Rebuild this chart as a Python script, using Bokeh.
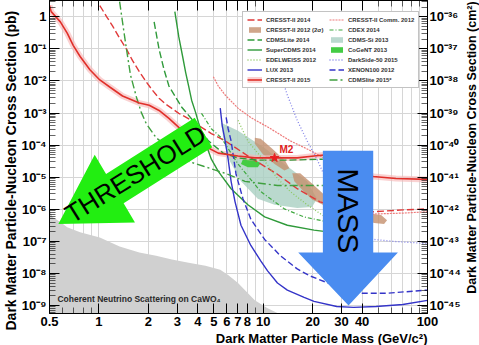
import numpy as np
from bokeh.plotting import figure
from bokeh.layouts import row
from bokeh.models import (Range1d, FixedTicker, LogAxis, CustomJSTickFormatter,
                          Legend, LegendItem, Title)
from bokeh.embed import file_html
from bokeh.resources import INLINE
from bokeh.core.properties import value

# ---------------- data (mass in GeV/c^2, log10 of cross section in pb) ----------------
cresst2015_m = [0.5, 0.512, 0.582, 0.641, 0.697, 0.768, 0.881, 1.012, 1.163, 1.392, 1.761, 2.023,
                2.322, 2.667, 3.062, 3.516, 4.037, 4.638, 5.325, 7.023, 8.884, 11.72, 16.11, 20.38,
                23.40, 28.01, 34.5, 46.73, 64.24, 100.0]
cresst2015_logxs = [0.35, 0.16, -0.16, -0.51, -0.89, -1.24, -1.65, -1.97, -2.19, -2.47, -2.69, -2.76,
                    -2.92, -3.17, -3.45, -3.64, -3.87, -4.09, -4.25, -4.34, -4.40, -4.40, -4.40, -4.34,
                    -4.31, -4.50, -4.75, -4.98, -5.04, -5.07]

cresst2014_m = [1.012, 1.115, 1.212, 1.336, 1.471, 1.599, 1.761, 1.940, 2.108, 2.322, 2.558, 3.062,
                3.665, 4.037, 4.832, 5.866, 8.406, 12.21, 16.11, 22.14, 32.16, 46.73, 70.78, 100.0]
cresst2014_logxs = [0.35, 0.0, -0.29, -0.67, -1.01, -1.36, -1.71, -2.03, -2.28, -2.54, -2.73, -3.01,
                    -3.23, -3.39, -3.64, -3.87, -4.40, -4.91, -5.36, -5.77, -5.99, -6.08, -6.02, -5.99]

cresst_comm2012_m = [4.97, 5.325, 5.866, 7.023, 8.406, 11.09, 14.62, 18.50, 23.40, 32.16, 46.73, 70.78, 100.0]
cresst_comm2012_logxs = [-1.87, -2.16, -2.44, -2.85, -3.14, -3.49, -3.87, -4.12, -4.40, -5.29, -6.15, -6.12, -6.08]

cdex2014_m = [4.209, 4.832, 5.551, 7.023, 9.654, 13.46, 17.74, 23.40]
cdex2014_logxs = [-3.01, -3.49, -3.77, -4.59, -5.45, -5.99, -6.24, -6.37]

cdmslite2014_m = [2.167, 2.322, 2.49, 2.667, 3.192, 3.874, 4.638, 5.707, 7.023, 9.261, 14.02, 23.07]
cdmslite2014_logxs = [-0.16, -1.01, -1.65, -2.16, -2.82, -3.33, -3.87, -4.25, -4.40, -4.47, -4.47, -4.44]

cdmslite2015_m = [1.336, 1.411, 1.471, 1.555, 1.690, 1.810, 1.940, 2.228, 2.667, 3.192, 4.33, 5.866,
                  7.736, 12.21, 19.28, 23.07]
cdmslite2015_logxs = [0.47, -0.38, -1.01, -1.81, -2.50, -2.98, -3.33, -3.77, -4.09, -4.44, -4.66, -4.88,
                      -5.13, -5.26, -5.26, -5.26]

supercdms2014_m = [2.897, 3.062, 3.24, 3.373, 3.516, 3.665, 3.874, 4.037, 4.209, 4.449, 4.832, 5.325,
                   6.374, 8.064, 10.20, 14.02, 20.38, 23.40, 30.01]
supercdms2014_logxs = [0.16, -0.63, -1.27, -1.74, -2.16, -2.60, -2.98, -3.30, -3.58, -3.93, -4.44, -4.82,
                       -5.36, -5.86, -6.24, -6.50, -6.65, -6.69, -6.75]

edelweiss2012_m = [7.023, 8.064, 9.261, 10.20, 12.21, 14.62, 18.50, 25.42, 32.16]
edelweiss2012_logxs = [-3.23, -3.87, -4.25, -4.50, -5.04, -5.45, -5.86, -6.34, -6.56]

darkside2015_m = [13.09, 14.02, 16.11, 18.50, 21.24, 23.40, 28.01, 33.53, 40.69, 61.63, 100.0]
darkside2015_logxs = [-1.97, -2.44, -3.23, -3.87, -4.44, -4.91, -5.86, -6.65, -6.91, -7.00, -7.07]

lux2013_m = [5.474, 5.628, 5.866, 6.115, 6.374, 6.738, 7.320, 8.406, 9.654, 10.63, 12.21, 14.02,
             17.74, 20.38, 28.01, 35.43, 48.69, 70.78, 100.0]
lux2013_logxs = [-2.85, -3.39, -3.87, -4.44, -5.13, -5.77, -6.50, -7.13, -7.61, -7.92, -8.30, -8.52,
                 -8.75, -8.87, -9.03, -9.06, -9.03, -8.97, -8.84]

xenon2012_m = [5.948, 6.115, 6.374, 6.832, 7.525, 8.406, 10.20, 12.73, 16.11, 19.28, 26.87, 36.93, 55.94, 100.0]
xenon2012_logxs = [-3.14, -3.49, -3.87, -4.91, -5.67, -6.31, -6.94, -7.45, -7.86, -8.08, -8.37, -8.62, -8.62, -8.52]

cdmssi2013_m = [5.551, 7.023, 10.20, 13.46, 18.50, 21.24, 19.82, 16.11, 11.72, 9.261, 7.320, 6.115, 5.707]
cdmssi2013_logxs = [-3.30, -3.55, -4.09, -4.59, -5.13, -5.67, -5.93, -5.96, -5.86, -5.67, -5.13, -4.40, -3.77]

cogent2013_m = [7.525, 8.64, 9.654, 9.261, 8.064, 7.320]
cogent2013_logxs = [-4.44, -4.44, -4.56, -4.69, -4.69, -4.59]

cresst2012_m2_m = [8.884, 9.654, 11.40, 13.64, 14.42, 13.46, 11.72, 9.924, 8.884]
cresst2012_m2_logxs = [-3.77, -3.80, -4.12, -4.50, -4.72, -4.79, -4.59, -4.28, -3.96]
cresst2012_m1_m = [15.03, 16.79, 19.82, 23.07, 32.16, 46.73, 52.18, 56.72, 54.40, 47.4, 32.16, 23.07,
                   19.82, 17.26, 15.45]
cresst2012_m1_logxs = [-4.88, -4.88, -5.20, -5.51, -5.93, -6.15, -6.18, -6.34, -6.46, -6.43, -6.18, -5.86,
                       -5.70, -5.39, -5.13]

neutrino_m = [0.5, 0.521, 0.582, 0.641, 0.768, 1.012, 1.336, 1.761, 2.228, 2.78, 3.516, 4.449,
              5.474, 6.115, 7.023, 8.884, 10.63, 12.73, 14.02]
neutrino_logxs = [-5.99, -6.24, -6.40, -6.56, -6.72, -6.88, -7.16, -7.35, -7.45, -7.57, -7.67, -7.76,
                  -7.89, -8.05, -8.30, -8.84, -9.09, -9.28, -9.60]

m2_point_m = [11.72]
m2_point_logxs = [-4.40]
m2_label_m = [12.55]
m2_label_logxs = [-4.15]
neutrino_label_m = [0.559]
neutrino_label_logxs = [-8.81]

threshold_arrow_m = [3.83, 1.105, 0.942, 0.566, 1.657, 1.413, 4.89]
threshold_arrow_logxs = [-3.15, -4.90, -4.30, -6.46, -6.41, -5.81, -4.07]
threshold_text_m = [1.666]
threshold_text_logxs = [-4.90]
mass_arrow_m = [23.07, 46.73, 46.73, 66.05, 33.06, 16.33, 23.07]
mass_arrow_logxs = [-4.18, -4.18, -7.35, -7.35, -9.00, -7.35, -7.35]
mass_text_m = [33.06]
mass_text_logxs = [-6.05]

x_tick_values = [0.5, 1, 2, 3, 4, 5, 6, 7, 8, 10, 20, 30, 40, 100]
x_minor_values = [0.6, 0.7, 0.8, 0.9, 9, 50, 60, 70, 80, 90]
y_decades = list(range(-9, 1))

right_title_text = "Dark Matter Particle-Nucleon Cross Section (cm\u00b2)"
right_title_pos = (0.5, 0.53)   # position inside the narrow title strip (fractions)


def pb(logs):
    return [10.0 ** v for v in logs]


FONT = "Liberation Sans"

p = figure(width=463, height=345, x_axis_type="log", y_axis_type="log",
           x_range=Range1d(0.5, 100), y_range=Range1d(10 ** -9.25, 10 ** 0.507),
           output_backend="svg", toolbar_location=None,
           min_border_left=49, min_border_right=31, min_border_top=0, min_border_bottom=10)
p.background_fill_color = "white"
p.border_fill_color = "white"
p.outline_line_color = "black"
p.outline_line_width = 1

bottom_axis = p.below[0]
left_axis = p.left[0]

# ticks
y_major = [10.0 ** d for d in y_decades]
y_minor = [k * 10.0 ** d for d in range(-10, 1) for k in range(2, 10)]
x_grid_vals = [0.6, 0.7, 0.8, 0.9] + list(range(1, 10)) + list(range(10, 101, 10))

sup_js = """
const sup = {"-": "\\u207b", "0": "\\u2070", "1": "\\u00b9", "2": "\\u00b2", "3": "\\u00b3",
             "4": "\\u2074", "5": "\\u2075", "6": "\\u2076", "7": "\\u2077", "8": "\\u2078", "9": "\\u2079"};
"""
left_fmt = CustomJSTickFormatter(code=sup_js + """
const e = Math.round(Math.log10(tick));
if (e == 0) { return "1"; }
let s = ""; for (const c of String(e)) { s += sup[c]; }
return "10" + s;
""")
right_fmt = CustomJSTickFormatter(code=sup_js + """
const e = Math.round(Math.log10(tick)) - 36;
let s = ""; for (const c of String(e)) { s += sup[c]; }
return "10" + s;
""")

left_axis.ticker = FixedTicker(ticks=y_major, minor_ticks=y_minor)
left_axis.formatter = left_fmt
bottom_axis.ticker = FixedTicker(ticks=x_tick_values, minor_ticks=x_minor_values)
bottom_axis.formatter = CustomJSTickFormatter(code="return String(tick);")
p.xgrid.ticker = FixedTicker(ticks=x_grid_vals)
p.ygrid.ticker = FixedTicker(ticks=y_major)

right_axis = LogAxis(ticker=FixedTicker(ticks=y_major, minor_ticks=y_minor), formatter=right_fmt)
p.add_layout(right_axis, "right")
top_axis = LogAxis(ticker=FixedTicker(ticks=x_tick_values, minor_ticks=x_minor_values),
                   formatter=CustomJSTickFormatter(code='return "";'),
                   major_label_text_font_size="0px", major_label_standoff=0, axis_label_standoff=0)
p.add_layout(top_axis, "above")

for ax in [bottom_axis, left_axis, right_axis, top_axis]:
    ax.major_tick_in = 10
    ax.major_tick_out = 0
    ax.minor_tick_in = 6
    ax.minor_tick_out = 0
    ax.axis_line_color = "black"
    ax.major_tick_line_color = "black"
    ax.minor_tick_line_color = "black"
    ax.minor_tick_line_alpha = 0.6
for ax in [bottom_axis, left_axis, right_axis]:
    ax.major_label_text_font = FONT
    ax.major_label_text_font_style = "bold"
    ax.major_label_text_font_size = "13px"
    ax.major_label_text_color = "black"
    ax.major_label_standoff = 3
right_axis.major_label_standoff = 2

for g in [p.xgrid[0], p.ygrid[0]]:
    g.grid_line_color = "#d6d6d6"
    g.grid_line_width = 1

# ---------------- filled regions ----------------
p.varea(x=neutrino_m, y1=1e-10, y2=pb(neutrino_logxs), fill_color="#d0d0d0")
r_cdmssi = p.patch(cdmssi2013_m, pb(cdmssi2013_logxs), fill_color="#a9cfc2", fill_alpha=0.8, line_color=None)
r_cogent = p.patch(cogent2013_m, pb(cogent2013_logxs), fill_color="#44cc44", line_color=None)
r_cresst12 = p.patches([cresst2012_m2_m, cresst2012_m1_m],
                       [pb(cresst2012_m2_logxs), pb(cresst2012_m1_logxs)],
                       fill_color="#c4906e", fill_alpha=0.8, line_color=None)

# ---------------- limit curves ----------------
r_c15_band = p.line(cresst2015_m, pb(cresst2015_logxs), line_color="#f6b4b4", line_width=6, line_alpha=0.6)
r_comm = p.line(cresst_comm2012_m, pb(cresst_comm2012_logxs), line_color="#ee7a7a", line_width=1.2,
                line_dash="2 1")
r_c14 = p.line(cresst2014_m, pb(cresst2014_logxs), line_color="#e03a3a", line_width=1.4, line_dash="7 3")
r_cdex = p.line(cdex2014_m, pb(cdex2014_logxs), line_color="#3fa83f", line_width=1.2, line_dash="4 2 1 2")
r_lite14 = p.line(cdmslite2014_m, pb(cdmslite2014_logxs), line_color="#2f9a3a", line_width=1.4, line_dash="7 3")
r_scdms = p.line(supercdms2014_m, pb(supercdms2014_logxs), line_color="#2f9a3a", line_width=1.4)
r_edel = p.line(edelweiss2012_m, pb(edelweiss2012_logxs), line_color="#8cc860", line_width=1.3, line_dash="1 2")
r_ds = p.line(darkside2015_m, pb(darkside2015_logxs), line_color="#8080e8", line_width=1.3, line_dash="1 2")
r_lux = p.line(lux2013_m, pb(lux2013_logxs), line_color="#3434c8", line_width=1.4)
r_xe = p.line(xenon2012_m, pb(xenon2012_logxs), line_color="#3434c8", line_width=1.4, line_dash="6 3")
r_lite15 = p.line(cdmslite2015_m, pb(cdmslite2015_logxs), line_color="#3fa03f", line_width=1.4,
                  line_dash="8 3 2 3")
r_c15 = p.line(cresst2015_m, pb(cresst2015_logxs), line_color="#e0302a", line_width=1.6)

p.scatter(m2_point_m, pb(m2_point_logxs), marker="star", size=9, fill_color="#e82020", line_color="#e82020")
p.text(m2_label_m, pb(m2_label_logxs), text=["M2"], text_font=value(FONT), text_font_style="bold",
       text_font_size="10px", text_color="#e02020", text_align="left", text_baseline="middle")
p.text(neutrino_label_m, pb(neutrino_label_logxs), text=["Coherent Neutrino Scattering on CaWO\u2084"],
       text_font=value(FONT), text_font_style="bold", text_font_size="8.5px", text_color="#2a2a2a",
       text_align="left", text_baseline="middle")

# ---------------- annotation arrows ----------------
p.patch(threshold_arrow_m, pb(threshold_arrow_logxs), fill_color="#22ee11", line_color=None)
p.text(threshold_text_m, pb(threshold_text_logxs), text=["THRESHOLD"], angle=np.radians(32),
       text_font=value(FONT), text_font_size="26px", text_color="black",
       text_align="center", text_baseline="middle")
p.patch(mass_arrow_m, pb(mass_arrow_logxs), fill_color="#4a8cf0", line_color=None)
p.text(mass_text_m, pb(mass_text_logxs), text=["MASS"], angle=-np.pi / 2,
       text_font=value(FONT), text_font_size="30px", text_color="black",
       text_align="center", text_baseline="middle")

# ---------------- legend ----------------
legend = Legend(items=[
    LegendItem(label="CRESST-II 2014", renderers=[r_c14]),
    LegendItem(label="CRESST-II Comm. 2012", renderers=[r_comm]),
    LegendItem(label="CRESST-II 2012 (2\u03c3)", renderers=[r_cresst12]),
    LegendItem(label="CDEX 2014", renderers=[r_cdex]),
    LegendItem(label="CDMSLite 2014", renderers=[r_lite14]),
    LegendItem(label="CDMS-Si 2013", renderers=[r_cdmssi]),
    LegendItem(label="SuperCDMS 2014", renderers=[r_scdms]),
    LegendItem(label="CoGeNT 2013", renderers=[r_cogent]),
    LegendItem(label="EDELWEISS 2012", renderers=[r_edel]),
    LegendItem(label="DarkSide-50 2015", renderers=[r_ds]),
    LegendItem(label="LUX 2013", renderers=[r_lux]),
    LegendItem(label="XENON100 2012", renderers=[r_xe]),
    LegendItem(label="CRESST-II 2015", renderers=[r_c15_band, r_c15]),
    LegendItem(label="CDMSlite 2015*", renderers=[r_lite15]),
], orientation="horizontal", ncols=2, location=(193, 225))
legend.label_text_font = FONT
legend.label_text_font_style = "bold"
legend.label_text_font_size = "6px"
legend.label_text_color = "#333333"
legend.label_height = 7
legend.label_width = 60
legend.glyph_width = 15
legend.glyph_height = 7
legend.label_standoff = 4
legend.spacing = 3
legend.padding = 4
legend.margin = 0
legend.border_line_color = "#888888"
legend.border_line_width = 1
legend.background_fill_color = "white"
legend.background_fill_alpha = 1.0
p.add_layout(legend)

# ---------------- axis titles ----------------
p.add_layout(Title(text="Dark Matter Particle-Nucleon Cross Section (pb)", align="left", offset=-17,
                   text_font=FONT, text_font_style="bold", text_font_size="14px", text_color="black",
                   standoff=0), "left")
p.add_layout(Title(text="Dark Matter Particle Mass (GeV/c\u00b2)", align="right", text_font=FONT,
                   text_font_style="bold", text_font_size="13px", text_color="black",
                   standoff=0, offset=0), "below")

# right-hand title (reads bottom-to-top, as in the reference) in a narrow strip
strip = figure(width=16, height=345, x_range=Range1d(0, 1), y_range=Range1d(0, 1),
               x_axis_location=None, y_axis_location=None, output_backend="svg",
               toolbar_location=None, min_border=0)
strip.outline_line_color = None
strip.grid.visible = False
strip.background_fill_color = "white"
strip.border_fill_color = "white"
strip.text([right_title_pos[0]], [right_title_pos[1]], text=[right_title_text], angle=np.pi / 2,
           text_font=value(FONT), text_font_style="bold", text_font_size="12.5px", text_color="black",
           text_align="center", text_baseline="middle")

layout = row(p, strip, spacing=0)
open("out.html", "w", encoding="utf-8").write(file_html(layout, INLINE))
